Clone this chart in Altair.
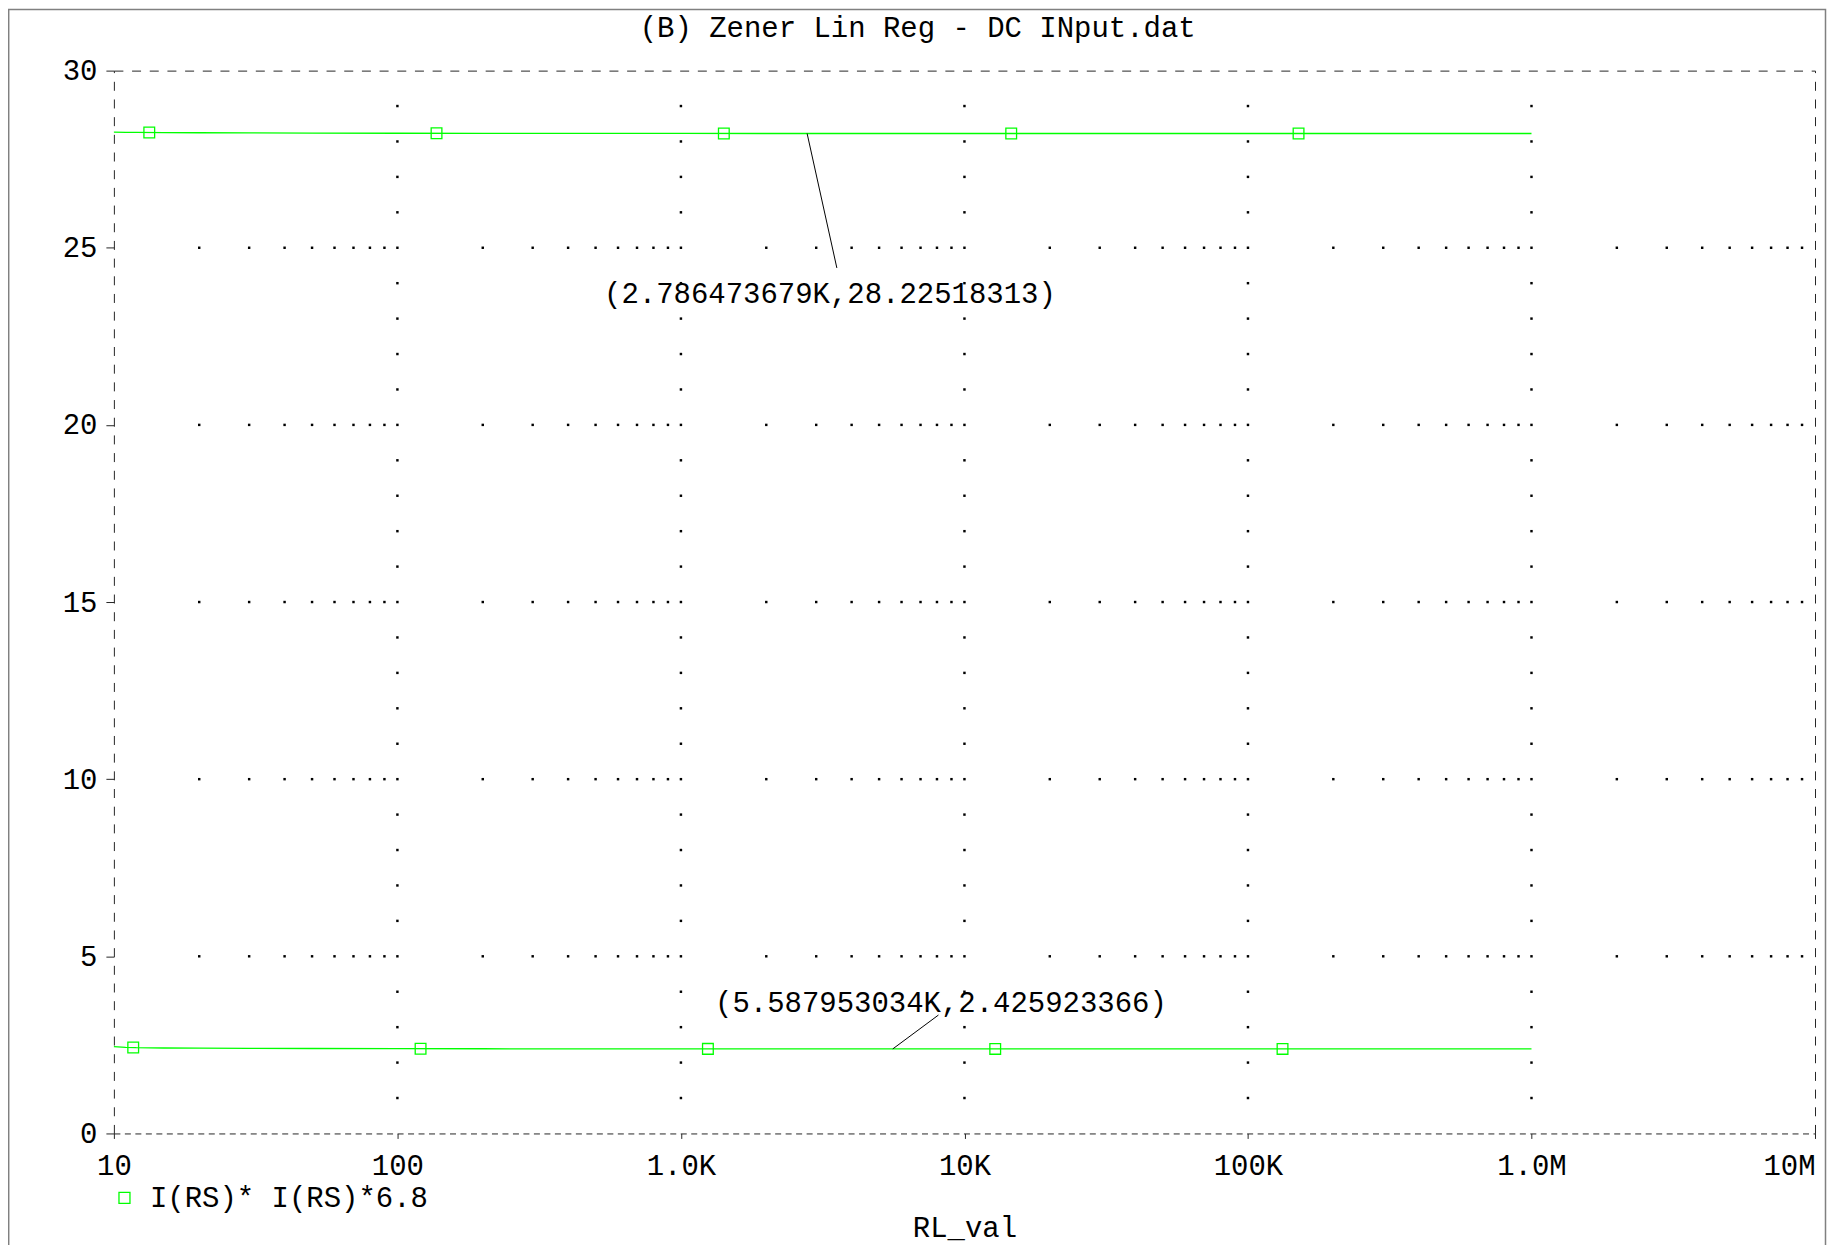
import altair as alt
import pandas as pd

FONT = "Liberation Mono"
GREEN = "#00ff00"
AXIS_COLOR = "#262626"

TITLE = "(B) Zener Lin Reg - DC INput.dat"
X_TITLE = "RL_val"
SERIES = "I(RS)* I(RS)*6.8"

# axis ticks
x_tick_values = [10, 100, 1000, 10000, 100000, 1000000, 10000000]
x_tick_labels = ["10", "100", "1.0K", "10K", "100K", "1.0M", "10M"]
y_tick_values = [0, 5, 10, 15, 20, 25, 30]

# trace samples (RL sweep)
rl_samples = [10, 11, 12, 15, 20, 30, 50, 100, 200, 500, 1000, 2786.473679,
              5587.953034, 10000, 100000, 1000000]
upper_vals = [28.262, 28.258, 28.255, 28.250, 28.246, 28.241, 28.236, 28.232,
              28.229, 28.227, 28.226, 28.22518313, 28.2250, 28.2249, 28.2248, 28.2248]
lower_vals = [2.450, 2.430, 2.420, 2.412, 2.407, 2.402, 2.397, 2.393,
              2.390, 2.388, 2.387, 2.386, 2.386, 2.386, 2.386, 2.386]

# trace markers
upper_marker_x = [13.33, 137.4, 1417, 14620, 150800]
upper_marker_y = [28.252, 28.231, 28.226, 28.2249, 28.2248]
lower_marker_x = [11.7, 120.7, 1245, 12840, 132400]
lower_marker_y = [2.425, 2.392, 2.387, 2.386, 2.386]

# cursor annotations
ann_x = [2786.473679, 5587.953034]
ann_y = [28.22518313, 2.386]
ann_text = ["(2.786473679K,28.22518313)", "(5.587953034K,2.425923366)"]
leader_end_x = [3548, 8096]
leader_end_y = [24.43, 3.342]
label_x = [535.8, 1319]
label_y = [23.44, 3.42]

# dotted grid
grid_decades = [100, 1000, 10000, 100000, 1000000]
all_decades = [10, 100, 1000, 10000, 100000, 1000000]
grid_y_units = list(range(1, 30))
minor_mult = [2, 3, 4, 5, 6, 7, 8, 9]
grid_h_levels = [5, 10, 15, 20, 25]

dots = [{"x": d, "y": u} for d in grid_decades for u in grid_y_units]
dots += [{"x": m * d, "y": g} for d in all_decades for m in minor_mult for g in grid_h_levels]
dots_df = pd.DataFrame(dots)

lines_df = pd.DataFrame(
    [{"x": x, "y": y, "run": "a"} for x, y in zip(rl_samples, upper_vals)]
    + [{"x": x, "y": y, "run": "b"} for x, y in zip(rl_samples, lower_vals)]
)
markers_df = pd.DataFrame(
    [{"x": x, "y": y, "trace": SERIES} for x, y in zip(upper_marker_x, upper_marker_y)]
    + [{"x": x, "y": y, "trace": SERIES} for x, y in zip(lower_marker_x, lower_marker_y)]
)
ann_df = pd.DataFrame({"x": ann_x, "y": ann_y, "x2": leader_end_x, "y2": leader_end_y,
                       "lx": label_x, "ly": label_y, "text": ann_text})

xscale = alt.Scale(type="log", domain=[10, 10000000], nice=False)
yscale = alt.Scale(domain=[0, 30], nice=False, zero=False)

label_expr = " : ".join(f"datum.value == {v} ? '{l}'" for v, l in zip(x_tick_values, x_tick_labels)) + " : ''"

x_axis = alt.Axis(
    values=x_tick_values, labelExpr=label_expr, tickSize=5, labelPadding=36,
    labelBaseline="alphabetic",
    labelAlign=alt.ConditionalAxisLabelAlign(condition={"test": "datum.value >= 10000000", "value": "right"}, value="center"),
    labelFlush=False, labelOverlap=False, domainDash=[6, 4.5],
    title=X_TITLE, titleY=103, titleBaseline="alphabetic",
)
y_axis = alt.Axis(values=y_tick_values, tickSize=8, labelPadding=9, labelAlign="right",
                  labelBaseline="middle", domainDash=[9, 8.7], title=None,
                  labelOverlap=False, labelFlush=False)

top_axis = alt.Axis(orient="top", labels=False, ticks=False, title=None, domainDash=[9, 8.7])
right_axis = alt.Axis(orient="right", labels=False, ticks=False, title=None, domainDash=[9, 8.7])

frame = alt.Chart(pd.DataFrame({"a": [0]})).mark_rect(
    fill="transparent", stroke="#808080", strokeWidth=1.5
).encode(x=alt.value(-105.3), x2=alt.value(1713.5), y=alt.value(-61.3), y2=alt.value(1200))

grid = alt.Chart(dots_df).mark_square(size=6, color="black", opacity=1).encode(
    x=alt.X("x:Q", scale=xscale, axis=top_axis),
    y=alt.Y("y:Q", scale=yscale, axis=right_axis),
)

lines = alt.Chart(lines_df).mark_line(color=GREEN, strokeWidth=1.3).encode(
    x=alt.X("x:Q", scale=xscale, axis=x_axis),
    y=alt.Y("y:Q", scale=yscale, axis=y_axis),
    detail="run:N",
)

markers = alt.Chart(markers_df).mark_point(shape="square", filled=False, size=115, strokeWidth=1.3, opacity=1).encode(
    x=alt.X("x:Q", scale=xscale, axis=None),
    y=alt.Y("y:Q", scale=yscale, axis=None),
    color=alt.Color("trace:N", scale=alt.Scale(domain=[SERIES], range=[GREEN]),
                    legend=alt.Legend(orient="none", legendX=-3.9, legendY=1114, title=None,
                                      labelFont=FONT, labelFontSize=29, labelColor="black",
                                      labelLimit=0,
                                      symbolSize=121, symbolStrokeWidth=1.3, symbolType="square",
                                      symbolStrokeColor=GREEN, symbolFillColor="transparent",
                                      padding=0, labelOffset=11)),
)

leaders = alt.Chart(ann_df).mark_rule(color="black", strokeWidth=1).encode(
    x=alt.X("x:Q", scale=xscale, axis=None), y=alt.Y("y:Q", scale=yscale, axis=None),
    x2="x2:Q", y2="y2:Q",
)

labels = alt.Chart(ann_df).mark_text(align="left", baseline="alphabetic", font=FONT,
                                      fontSize=29, color="black").encode(
    x=alt.X("lx:Q", scale=xscale, axis=None), y=alt.Y("ly:Q", scale=yscale, axis=None),
    text="text:N",
)

chart = alt.layer(frame, grid, lines, markers, leaders, labels).resolve_axis(
    x="independent", y="independent"
).properties(
    width=1703, height=1064,
    padding={"left": 106, "top": 62, "right": 12, "bottom": 112},
    autosize=alt.AutoSizeParams(type="none"),
    title=alt.TitleParams(text=TITLE, font=FONT, fontSize=29, fontWeight="normal", color="black",
                          anchor="middle", frame="group", dx=-46.8, offset=-57.5, baseline="alphabetic"),
).configure_view(stroke=None).configure_axis(
    labelFont=FONT, labelFontSize=29, labelColor="black", titleFont=FONT, titleFontSize=29,
    titleFontWeight="normal", titleColor="black", domainColor=AXIS_COLOR, tickColor=AXIS_COLOR,
    domainWidth=1, tickWidth=1, grid=False,
)

chart.save("out.html", embed_options={"renderer": "svg", "actions": False})
